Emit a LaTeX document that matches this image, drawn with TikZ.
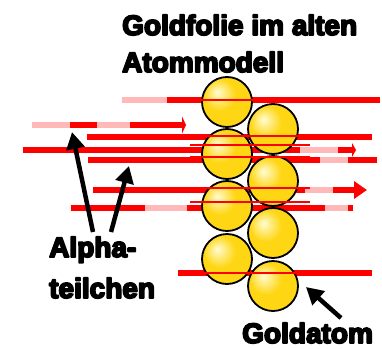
\documentclass[tikz,border=0pt]{standalone}
\usepackage{fontspec}
\newfontfamily\labelfont{Liberation Sans}
\usetikzlibrary{arrows.meta}

\definecolor{goldlight}{RGB}{255,252,210}
\definecolor{goldmid}{RGB}{255,214,20}
\definecolor{goldrim}{RGB}{232,170,0}
\definecolor{ray}{RGB}{255,0,0}
\definecolor{rayfade}{RGB}{255,185,185}

% heavy lettering: fill and stroke the glyphs
\newcommand\thicktext[1]{\special{pdf:literal 2 Tr 1.8 w 0 G 1 j}#1\special{pdf:literal 0 Tr}}

% gold ball, bright spot up left
\pgfdeclareradialshading{goldball}{\pgfpoint{-10bp}{10bp}}{%
  color(0bp)=(goldlight); color(16bp)=(goldmid); color(38bp)=(goldmid);
  color(48bp)=(goldrim); color(60bp)=(goldrim)}

\tikzset{
  atom/.style={circle, minimum size=50pt, inner sep=0pt, draw=black,
    line width=1.8pt, shading=goldball},
  track/.style={draw=ray, line width=6.5pt},
  fade/.style={draw=rayfade, line width=6.5pt},
  trace/.style={draw=ray, line width=1.4pt},
  pointer/.style={draw=black, line width=4.5pt, -{Triangle[width=18pt,length=17pt]}},
  caption/.style={inner sep=0pt, anchor=base west, font=\labelfont\bfseries\fontsize{28}{30}\selectfont}
}

\begin{document}
\begin{tikzpicture}[x=1pt,y=-1pt]
\useasboundingbox (0,0) rectangle (382,348);

% alpha tracks (behind the foil)
\draw [track] (122,100) -- (380,100);
\draw [fade] (122,100) -- (167,100);
\draw [track, -{Triangle[width=17pt,length=4pt]}] (32,125) -- (186,125);
\draw [fade] (32,125) -- (70,125);
\draw [fade] (97,125) -- (130,125);
\draw [track] (87,137) -- (372,137);
\draw [track, -{Triangle[width=14pt,length=4pt]}] (23,150) -- (356,150);
\draw [fade] (300,150) -- (338,150);
\draw [track] (88,160) -- (377,160);
\draw [fade] (320,160) -- (348,160);
\draw [track, -{Triangle[width=17pt,length=13pt]}] (93,190) -- (367,190);
\draw [fade] (305,190) -- (333,190);
\draw [track] (71,208) -- (353,208);
\draw [fade] (145,208) -- (187,208);
\draw [fade] (325,208) -- (348,208);
\draw [track] (178,273) -- (372,273);

% gold foil
\node (atomL1) at (227,102) [atom] {};
\node (atomL2) at (227,154) [atom] {};
\node (atomL3) at (227,206) [atom] {};
\node (atomL4) at (227,259) [atom] {};
\node (atomR1) at (273,129) [atom] {};
\node (atomR2) at (273,181) [atom] {};
\node (atomR3) at (273,233) [atom] {};
\node (atomR4) at (273,286) [atom] {};

% tracks crossing the atoms
\draw [trace] (190,100) -- (310,100);
\draw [trace] (190,136) -- (310,136);
\draw [trace] (190,145) -- (310,145);
\draw [trace] (190,157) -- (310,157);
\draw [trace] (190,188) -- (310,188);
\draw [trace] (190,202) -- (310,202);
\draw [trace] (190,273) -- (310,273);

% labels
\node (title1) at (122,35) [caption] {\thicktext{Goldfolie im alten}};
\node (title2) at (122,72) [caption] {\thicktext{Atommodell}};
\node (alpha1) at (49,257) [caption] {\thicktext{Alpha-}};
\node (alpha2) at (49,298) [caption] {\thicktext{teilchen}};
\node (gold) at (242,343) [caption] {\thicktext{Goldatom}};

\coordinate (alphaA) at (93,232);
\coordinate (alphaB) at (111,232);
\coordinate (hitA) at (72,132);
\coordinate (hitB) at (129,166);
\coordinate (goldtail) at (341,318);
\coordinate (goldtip) at (306,287);

\draw [pointer] (alphaA) -- (hitA);
\draw [pointer] (alphaB) -- (hitB);
\draw [pointer] (goldtail) -- (goldtip);
\end{tikzpicture}
\end{document}
